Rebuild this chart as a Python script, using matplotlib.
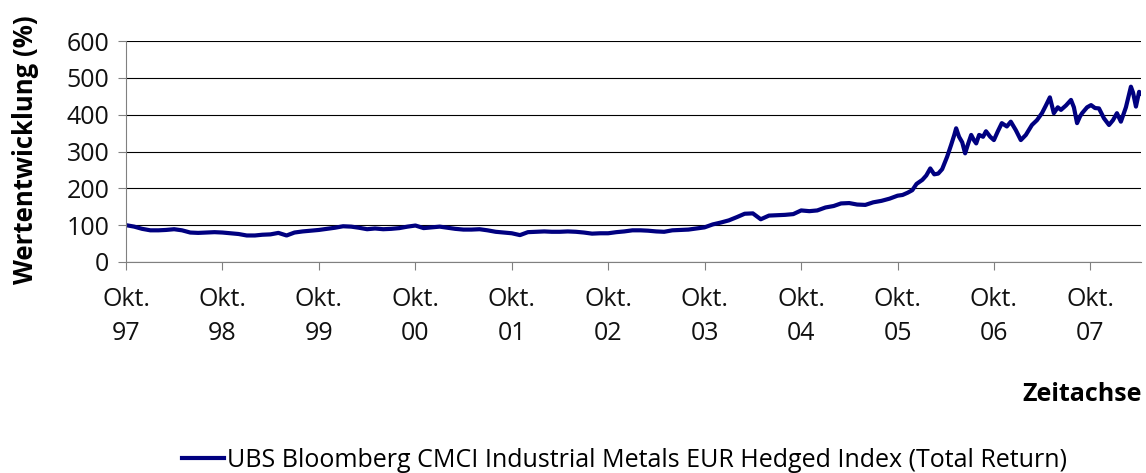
import numpy as np
import pandas as pd
import matplotlib
matplotlib.use("Agg")
import matplotlib.pyplot as plt

plt.rcParams['font.family'] = ['Open Sans', 'DejaVu Sans']

# monthly readings Oct 1997 - Sep 2005
monthly_start = "1997-10-01"
monthly_values = [
    100, 96, 90, 86, 86, 87, 89, 86, 80, 79, 80, 81,
    80, 78, 76, 72, 72, 74, 75, 79, 72, 80, 83, 85,
    87, 90, 93, 97, 96, 93, 89, 91, 89, 90, 92, 96,
    99, 92, 94, 96, 93, 90, 88, 88, 89, 86, 82, 80,
    78, 73, 81, 82, 83, 82, 82, 83, 82, 80, 77, 78,
    78, 81, 83, 86, 86, 85, 83, 82, 86, 87, 88, 91,
    94, 102, 107, 113, 122, 131, 132, 116, 126, 127, 128, 130,
    140, 138, 140, 148, 152, 159, 160, 156, 155, 162, 166, 172,
]

# finer readings for the volatile part, Oct 2005 - Apr 2008
late_dates = [
    "2005-10-01", "2005-10-20", "2005-11-08", "2005-11-26", "2005-12-12",
    "2006-01-03", "2006-01-18", "2006-02-02", "2006-02-17", "2006-03-04",
    "2006-03-19", "2006-04-07", "2006-04-22", "2006-05-04", "2006-05-11",
    "2006-05-22", "2006-06-03", "2006-06-14", "2006-06-25", "2006-07-07",
    "2006-07-18", "2006-07-26", "2006-08-06", "2006-08-21", "2006-09-01",
    "2006-09-17", "2006-10-01", "2006-10-16", "2006-10-31", "2006-11-19",
    "2006-12-04", "2006-12-23", "2007-01-11", "2007-01-30", "2007-02-22",
    "2007-03-13", "2007-04-01", "2007-04-16", "2007-05-01", "2007-05-16",
    "2007-05-31", "2007-06-12", "2007-07-01", "2007-07-20", "2007-07-31",
    "2007-08-12", "2007-08-23", "2007-08-31", "2007-09-19", "2007-10-04",
    "2007-10-19", "2007-11-03", "2007-11-22", "2007-12-11", "2007-12-26",
    "2008-01-10", "2008-01-25", "2008-02-13", "2008-03-03", "2008-03-11",
    "2008-03-22", "2008-04-03", "2008-04-10",
]
late_values = [
    180, 182, 188, 195, 212,
    223, 235, 254, 238, 240,
    252, 286, 318, 345, 363,
    340, 325, 295, 320, 345,
    330, 322, 345, 340, 355,
    340, 331, 355, 377, 368,
    381, 358, 331, 345, 372,
    385, 404, 425, 447, 404,
    420, 413, 425, 440, 420,
    377, 395, 404, 420, 426,
    418, 417, 390, 372, 385,
    404, 381, 420, 476, 460,
    422, 462, 458,
]

tick_years = ["97", "98", "99", "00", "01", "02", "03", "04", "05", "06", "07"]
series_name = "UBS Bloomberg CMCI Industrial Metals EUR Hedged Index (Total Return)"

dates = list(pd.date_range(monthly_start, periods=len(monthly_values), freq="MS")) + list(pd.to_datetime(late_dates))
values = monthly_values + late_values

fig = plt.figure(figsize=(11.46, 4.73), dpi=100)
ax = fig.add_axes([0.110, 0.4461, 0.8856, 0.4672])

ax.plot(dates, values, color="#000080", lw=3.0, label=series_name)

ax.set_ylim(0, 600)
ax.set_yticks(np.arange(0, 601, 100))
ax.set_xlim(pd.Timestamp("1997-10-01"), pd.Timestamp(late_dates[-1]))
tick_pos = [pd.Timestamp(f"{1997 + i}-10-01") for i in range(len(tick_years))]
ax.set_xticks(tick_pos)
ax.set_xticklabels([f"Okt.\n{y}" for y in tick_years], linespacing=1.45)

ax.grid(axis="y", color="black", lw=0.8)
ax.set_axisbelow(True)
for s in ["top", "right"]:
    ax.spines[s].set_visible(False)
ax.spines["left"].set_color("#808080")
ax.spines["bottom"].set_color("#808080")
ax.tick_params(axis="x", length=6, color="#808080", labelsize=18, pad=12, labelcolor="#111111")
ax.tick_params(axis="y", length=6, color="#808080", labelsize=18, pad=6, labelcolor="#111111")

fig.text(0.022, 0.683, "Wertentwicklung (%)", rotation=90, ha="center", va="center",
         fontsize=18.5, fontweight="bold")
fig.text(0.996, 0.165, "Zeitachse", ha="right", va="center", fontsize=18, fontweight="bold")

fig.legend(loc="center", bbox_to_anchor=(0.545, 0.027), frameon=False, fontsize=18,
           handlelength=1.7, handletextpad=0.12, borderpad=0, borderaxespad=0)

fig.savefig("out.png", dpi=100)
